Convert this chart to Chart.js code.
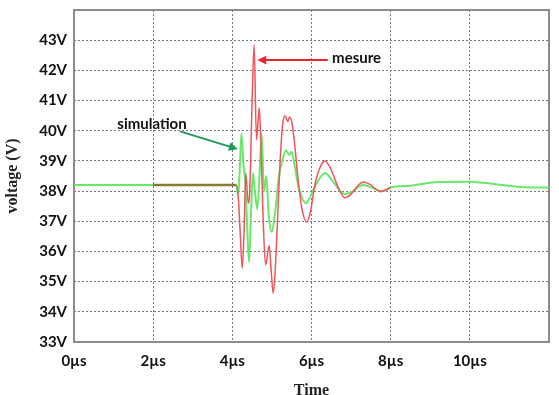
<!DOCTYPE html>
<html>
<head>
<meta charset="utf-8">
<script src="https://cdn.jsdelivr.net/npm/chart.js@4/dist/chart.umd.min.js"></script>
<style>
  html, body { margin: 0; padding: 0; background: #fff; }
  #wrap { width: 559px; height: 395px; position: relative; }
</style>
</head>
<body>
<div id="wrap"><canvas id="chart"></canvas></div>
<script>
// simulation (green), time in µs
const simTime = [0, 4.10, 4.15, 4.19, 4.23, 4.28, 4.33, 4.37, 4.42, 4.47, 4.52, 4.57, 4.63, 4.69, 4.74,
  4.80, 4.86, 4.92, 5.00, 5.08, 5.18, 5.28, 5.36, 5.43, 5.50, 5.58, 5.68, 5.86, 6.00, 6.15, 6.34,
  6.55, 6.84, 7.05, 7.30, 7.55, 7.80, 8.00, 8.50, 9.20, 10.0, 10.7, 11.4, 12.0];
const simVolt = [38.2, 38.2, 37.85, 38.8, 39.9, 38.9, 38.2, 37.0, 35.65, 37.2, 38.6, 38.0, 37.4, 38.6, 39.9,
  38.0, 38.5, 37.2, 36.65, 37.3, 38.5, 39.1, 39.35, 39.2, 39.3, 38.8, 38.1, 37.6, 37.9, 38.3, 38.6,
  38.3, 37.9, 38.0, 38.2, 38.1, 38.0, 38.12, 38.18, 38.3, 38.31, 38.22, 38.13, 38.12];

// mesure (red)
const mesTime = [2.0, 4.10, 4.15, 4.20, 4.25, 4.30, 4.34, 4.40, 4.44, 4.50, 4.55, 4.61, 4.65, 4.68, 4.73,
  4.78, 4.84, 4.93, 4.98, 5.03, 5.08, 5.14, 5.20, 5.27, 5.33, 5.40, 5.44, 5.50, 5.57, 5.66, 5.76,
  5.88, 5.97, 6.10, 6.22, 6.34, 6.50, 6.68, 6.84, 7.00, 7.15, 7.31, 7.50, 7.73, 8.00];
const mesVolt = [38.2, 38.2, 37.8, 36.6, 35.45, 36.8, 38.6, 37.6, 38.0, 41.0, 42.85, 39.7, 40.3, 40.75, 39.2,
  37.0, 35.55, 36.2, 35.4, 34.62, 35.3, 37.0, 38.8, 40.2, 40.5, 40.3, 40.45, 40.3, 39.6, 38.4, 37.4,
  36.97, 37.3, 38.3, 38.8, 39.0, 38.7, 38.1, 37.78, 37.9, 38.15, 38.3, 38.2, 37.98, 38.1];

const xTicks = [0, 2, 4, 6, 8, 10];
const yTicks = [33, 34, 35, 36, 37, 38, 39, 40, 41, 42, 43];

const toPoints = (xs, ys) => xs.map((x, i) => ({ x: x, y: ys[i] }));

// frame around plot + annotation arrows
const framePlugin = {
  id: 'frame',
  beforeDatasetsDraw(chart) {
    const { ctx, chartArea: a } = chart;
    ctx.save();
    ctx.setLineDash([]);
    ctx.strokeStyle = '#8c8c8c';
    ctx.lineWidth = 2;
    ctx.strokeRect(a.left, a.top, a.right - a.left, a.bottom - a.top);
    ctx.restore();
  },
  afterDraw(chart) {
    const { ctx } = chart;
    const xs = chart.scales.x, ys = chart.scales.y;
    const px = v => xs.getPixelForValue(v), py = v => ys.getPixelForValue(v);

    function arrow(x0, y0, x1, y1, color) {
      const ang = Math.atan2(y1 - y0, x1 - x0);
      ctx.save();
      ctx.strokeStyle = color;
      ctx.fillStyle = color;
      ctx.lineWidth = 2;
      ctx.beginPath();
      ctx.moveTo(x0, y0);
      ctx.lineTo(x1 - 6 * Math.cos(ang), y1 - 6 * Math.sin(ang));
      ctx.stroke();
      ctx.beginPath();
      ctx.moveTo(x1, y1);
      ctx.lineTo(x1 - 10 * Math.cos(ang - 0.45), y1 - 10 * Math.sin(ang - 0.45));
      ctx.lineTo(x1 - 10 * Math.cos(ang + 0.45), y1 - 10 * Math.sin(ang + 0.45));
      ctx.closePath();
      ctx.fill();
      ctx.restore();
    }

    ctx.save();
    ctx.font = 'bold 15px Lato';
    ctx.fillStyle = '#111';
    ctx.textAlign = 'center';
    ctx.textBaseline = 'middle';
    ctx.fillText('simulation', px(1.97), py(40.22));
    ctx.fillText('mesure', px(7.14), py(42.4));
    ctx.restore();

    arrow(px(2.68), py(39.98), px(4.14), py(39.39), '#1f9a5a');
    arrow(px(6.41), py(42.34), px(4.63), py(42.34), '#e8262b');
  }
};

new Chart(document.getElementById('chart'), {
  type: 'line',
  data: {
    datasets: [
      {
        label: 'mesure',
        data: toPoints(mesTime, mesVolt),
        borderColor: '#f0555c',
        borderWidth: 1.5,
        pointRadius: 0,
        cubicInterpolationMode: 'monotone',
        segment: {
          borderColor: c => (c.p1.parsed.x <= 4.1 ? '#857a36' : undefined),
          borderWidth: c => (c.p1.parsed.x <= 4.1 ? 2.5 : undefined),
        },
      },
      {
        label: 'simulation',
        data: toPoints(simTime, simVolt),
        borderColor: '#6ae86a',
        borderWidth: 2,
        pointRadius: 0,
        cubicInterpolationMode: 'monotone',
        segment: {
          borderColor: c => (c.p0.parsed.x >= 2 && c.p1.parsed.x <= 4.1 ? 'rgba(0,0,0,0)' : undefined),
        },
      },
    ],
  },
  options: {
    responsive: true,
    maintainAspectRatio: false,
    animation: false,
    layout: { padding: { left: 0, right: 10, top: 10, bottom: 0 } },
    plugins: {
      legend: { display: false },
      tooltip: { enabled: false },
    },
    scales: {
      x: {
        type: 'linear',
        min: 0,
        max: 12,
        afterFit: s => { s.height = 53; s.paddingLeft = 0; s.paddingRight = 0; },
        afterBuildTicks: s => { s.ticks = xTicks.concat([12]).map(v => ({ value: v })); },
        ticks: {
          color: '#111',
          font: { family: 'Lato', size: 15, weight: 'bold' },
          padding: 10,
          maxRotation: 0,
          callback: v => (v === 12 ? '' : v + 'µs'),
        },
        grid: { color: '#7a7a7a', lineWidth: 1, drawTicks: false },
        border: { display: false, dash: [2, 2] },
        title: {
          display: true,
          text: 'Time',
          color: '#222',
          font: { family: 'Liberation Serif', size: 16, weight: 'bold' },
          padding: { top: 0, bottom: -5 },
        },
      },
      y: {
        min: 33,
        max: 44,
        afterFit: s => { s.width = 74; s.paddingTop = 0; s.paddingBottom = 0; },
        afterBuildTicks: s => { s.ticks = yTicks.concat([44]).map(v => ({ value: v })); },
        ticks: {
          color: '#111',
          font: { family: 'Lato', size: 15, weight: 'bold' },
          padding: 7,
          callback: v => (v === 44 ? '' : v + 'V'),
        },
        grid: { color: '#7a7a7a', lineWidth: 1, drawTicks: false },
        border: { display: false, dash: [2, 2] },
        title: {
          display: true,
          text: 'voltage (V)',
          color: '#222',
          font: { family: 'Liberation Serif', size: 16, weight: 'bold' },
          padding: { top: 3, bottom: 0 },
        },
      },
    },
  },
  plugins: [framePlugin],
});
</script>
</body>
</html>
